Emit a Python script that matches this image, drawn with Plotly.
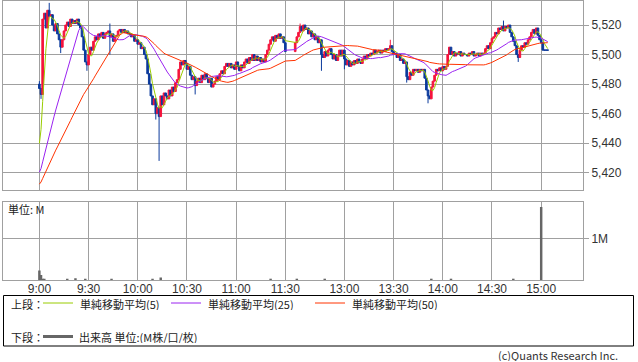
import plotly.graph_objects as go
import pandas as pd

W, H = 638, 362

# ---------------- data ----------------
# previous session's last closes (only used to seed the moving averages)
prev_day_closes = [
    5402, 5403, 5401, 5404, 5403, 5405, 5404, 5402, 5403, 5405,
    5406, 5404, 5403, 5405, 5404, 5406, 5405, 5403, 5404, 5406,
    5405, 5404, 5406, 5405, 5407,
    5410, 5412, 5411, 5413, 5412, 5414, 5413, 5415, 5414, 5416,
    5415, 5417, 5416, 5418, 5417, 5419, 5418, 5420, 5419, 5421,
    5426, 5429, 5432, 5435,
]

first_open = 5480

# 1-minute closes, morning session 9:00 - 11:30
closes_am = [
    5477, 5473, 5524, 5528, 5518, 5530, 5526, 5527, 5520, 5516,
    5521, 5514, 5510, 5505, 5510, 5516, 5520, 5522, 5519, 5524,
    5521, 5523, 5521, 5524, 5520, 5518, 5512, 5503, 5495, 5493,
    5500, 5505, 5503, 5509, 5512, 5510, 5514, 5512, 5515, 5511,
    5514, 5515, 5516, 5512, 5514, 5509, 5512, 5513, 5516, 5517,
    5515, 5517, 5515, 5516, 5514, 5514, 5512, 5513, 5509, 5510,
    5507, 5508, 5504, 5505, 5500, 5497, 5487, 5480, 5472, 5466,
    5470, 5460, 5464, 5458, 5472, 5466, 5474, 5472, 5470, 5476,
    5472, 5478, 5475, 5481, 5483, 5490, 5495, 5493, 5496, 5494,
    5490, 5492, 5486, 5483, 5485, 5479, 5482, 5484, 5481, 5486,
    5483, 5487, 5484, 5481, 5484, 5478, 5480, 5482, 5485, 5483,
    5487, 5489, 5487, 5492, 5494, 5492, 5494, 5491, 5493, 5490,
    5495, 5492, 5489, 5493, 5491, 5495, 5497, 5494, 5498, 5496,
    5500, 5496, 5499, 5496, 5498, 5495, 5497, 5495, 5500, 5503,
    5507, 5510, 5512, 5509, 5513, 5511, 5514, 5511, 5512, 5508,
    5502,
]

# 1-minute closes, afternoon session 12:30 - 15:04
closes_pm = [
    5508, 5512, 5515, 5519, 5516, 5520, 5517, 5518, 5514, 5516,
    5512, 5514, 5510, 5512, 5508, 5510, 5500, 5498, 5502, 5499,
    5503, 5504, 5500, 5497, 5500, 5496, 5499, 5503, 5499, 5503,
    5497, 5493, 5496, 5492, 5495, 5493, 5496, 5494, 5497, 5495,
    5494, 5497, 5499, 5497, 5500, 5499, 5501, 5500, 5503, 5501,
    5502, 5503, 5501, 5503, 5502, 5504, 5503, 5504, 5506, 5502,
    5500, 5501, 5498, 5500, 5496, 5497, 5494, 5495, 5485, 5483,
    5488, 5486, 5490, 5489, 5490, 5488, 5490, 5489, 5490, 5484,
    5476, 5472, 5470, 5478, 5482, 5486, 5490, 5489, 5491, 5489,
    5492, 5490, 5492, 5500, 5505, 5500, 5502, 5499, 5501, 5500,
    5502, 5499, 5501, 5500, 5500, 5499, 5501, 5500, 5502, 5499,
    5500, 5501, 5499, 5501, 5500, 5501, 5504, 5506, 5504, 5508,
    5511, 5512, 5515, 5514, 5518, 5517, 5519, 5516, 5519, 5518,
    5520, 5515, 5512, 5509, 5506, 5500, 5498, 5503, 5506, 5505,
    5508, 5507, 5510, 5512, 5515, 5517, 5514, 5518, 5513, 5510,
    5508, 5503, 5503, 5503, 5503,
]

wick_highs = {"9:00": 5482, "9:06": 5535, "9:43": 5521, "12:33": 5521,
              "13:28": 5510, "14:37": 5523}
wick_lows = {"9:01": 5470, "9:13": 5501, "9:29": 5489, "9:43": 5500,
             "10:11": 5456, "10:13": 5428, "10:35": 5473, "12:46": 5489,
             "13:00": 5490, "13:38": 5481, "13:51": 5467, "14:46": 5495}

vol_times = ["9:00", "9:01", "9:02", "9:03", "9:17", "9:22", "9:28", "9:44",
             "10:09", "10:14", "11:21", "12:31", "12:48", "13:53", "14:05",
             "14:43", "15:00"]
vol_values = [0.23, 0.12, 0.03, 0.03, 0.02, 0.04, 0.02, 0.02,
              0.02, 0.06, 0.02, 0.02, 0.02, 0.02, 0.02,
              0.02, 1.77]

tick_labels = ["9:00", "9:30", "10:00", "10:30", "11:00", "11:30",
               "13:00", "13:30", "14:00", "14:30", "15:00"]
price_ticks = [5420, 5440, 5460, 5480, 5500, 5520]

ma_periods = [5, 25, 50]
ma_colors = ["#99cc00", "#9a22f0", "#ff3300"]
up_color = "#f5143c"
down_color = "#0b3a9c"
grid_color = "#a0a0a0"


# ---------------- helpers ----------------
def pos(t):
    """Position on the time axis (1 unit = 1 minute, lunch break compressed)."""
    h, m = map(int, t.split(":"))
    mins = h * 60 + m
    if mins <= 11 * 60 + 30:
        return mins - 9 * 60
    return 156 + mins - (12 * 60 + 30)


def fmt(mins):
    return f"{mins // 60}:{mins % 60:02d}"


am_times = [fmt(9 * 60 + k) for k in range(len(closes_am))]
pm_times = [fmt(12 * 60 + 30 + k) for k in range(len(closes_pm))]
times = am_times + pm_times
closes = closes_am + closes_pm
xs = [pos(t) for t in times]

opens = [first_open] + closes[:-1]
highs = [max(o, c) for o, c in zip(opens, closes)]
lows = [min(o, c) for o, c in zip(opens, closes)]
for k, t in enumerate(times):
    if t in wick_highs:
        highs[k] = max(highs[k], wick_highs[t])
    if t in wick_lows:
        lows[k] = min(lows[k], wick_lows[t])

full = pd.Series(prev_day_closes + closes, dtype=float)
n_prev = len(prev_day_closes)


def px(x):
    return x / W


def py(y):
    return 1 - y / H


# ---------------- figure ----------------
fig = go.Figure()

fig.add_trace(go.Candlestick(
    x=xs, open=opens, high=highs, low=lows, close=closes,
    increasing=dict(line=dict(color=up_color, width=1), fillcolor=up_color),
    decreasing=dict(line=dict(color=down_color, width=1), fillcolor=down_color),
    whiskerwidth=0, xaxis="x", yaxis="y", showlegend=False,
))

for n, col in zip(ma_periods, ma_colors):
    ma = full.rolling(n).mean().iloc[n_prev:].tolist()
    fig.add_trace(go.Scatter(x=xs, y=ma, mode="lines",
                             line=dict(color=col, width=1),
                             xaxis="x", yaxis="y", showlegend=False))

fig.add_trace(go.Bar(x=[pos(t) for t in vol_times], y=vol_values,
                     width=1.5, marker=dict(color="#666666", line=dict(width=0)),
                     xaxis="x2", yaxis="y2", showlegend=False))

xdom = [px(3.3), px(583)]
xrange_ = [-22, 331.5]
tick_pos = [pos(t) for t in tick_labels]
num_font = dict(family="Liberation Sans, Arial, sans-serif", size=12, color="#333333")

common_x = dict(domain=xdom, range=xrange_, tickvals=tick_pos, showgrid=True,
                gridcolor=grid_color, gridwidth=1, showline=True, linecolor=grid_color,
                linewidth=1, mirror=True, zeroline=False, ticks="", automargin=False,
                fixedrange=True)

fig.update_layout(
    width=W, height=H,
    margin=dict(l=0, r=0, t=0, b=0),
    paper_bgcolor="white", plot_bgcolor="white",
    boxgap=0, boxgroupgap=0,
    showlegend=False,
    xaxis=dict(**common_x, anchor="y", showticklabels=False,
               rangeslider=dict(visible=False)),
    yaxis=dict(domain=[py(190), py(0.5)], range=[5408.3, 5536.6], side="right",
               tickvals=price_ticks, tickformat=",", ticks="outside", ticklen=5,
               tickcolor=grid_color, showgrid=True, gridcolor=grid_color,
               showline=True, linecolor=grid_color, mirror=True, zeroline=False,
               tickfont=num_font, anchor="x", automargin=False),
    xaxis2=dict(**common_x, anchor="y2", ticktext=tick_labels,
                tickfont=num_font, ticklabelstandoff=-2),
    yaxis2=dict(domain=[py(280), py(201.7)], range=[0, 1.896], side="right",
                tickvals=[1], ticktext=["1M"], ticks="outside", ticklen=5,
                tickcolor=grid_color, showgrid=True, gridcolor=grid_color,
                showline=True, linecolor=grid_color, mirror=True, zeroline=False,
                tickfont=num_font, anchor="x2", automargin=False),
)

jp = "Noto Sans CJK JP, sans-serif"
ann = []


def text(x, y, s, size=11, anchor="left", color="#222222"):
    ann.append(dict(x=px(x), y=py(y), xref="paper", yref="paper", text=s,
                    showarrow=False, xanchor=anchor, yanchor="middle",
                    height=12, borderpad=0,
                    font=dict(family=jp, size=size, color=color)))


text(7, 209, "単位: M")
text(10, 303.5, "上段：")
text(10, 336.5, "下段：")
legend_x = [(43, 79), (171, 207), (315, 351)]
for (lx, tx), n, col in zip(legend_x, ma_periods, ma_colors):
    fig.add_shape(type="line", xref="paper", yref="paper",
                  x0=px(lx), x1=px(lx + 30), y0=py(303), y1=py(303),
                  line=dict(color=col, width=1))
    text(tx, 303.5, f"単純移動平均({n})")
fig.add_shape(type="line", xref="paper", yref="paper",
              x0=px(43), x1=px(73), y0=py(336.5), y1=py(336.5),
              line=dict(color="#666666", width=3))
text(78, 336.5, "出来高 単位:(M株/口/枚)")
text(619, 355, "(c)Quants Research Inc.", anchor="right", color="#333333")

fig.add_shape(type="rect", xref="paper", yref="paper",
              x0=px(3.5), x1=px(633.5), y0=py(346), y1=py(295.5),
              line=dict(color="black", width=1))

fig.update_layout(annotations=ann)
fig.write_html("out.html")
